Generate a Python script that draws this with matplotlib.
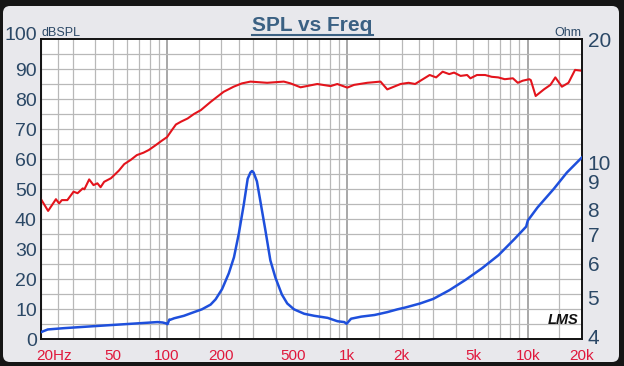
import matplotlib
matplotlib.use("Agg")
import matplotlib.pyplot as plt
from matplotlib.patches import FancyBboxPatch
from matplotlib.lines import Line2D
from matplotlib import transforms
from matplotlib import font_manager as fm
import numpy as np

# ---- data ----
spl_freq = [20, 21.9, 24.2, 25.2, 26.1, 28.0, 30.3, 31.9, 34.1, 34.8, 37.0, 39.1, 41.1,
            42.8, 44.8, 48.9, 54.0, 57.9, 62.9, 68.0, 74.0, 79.2, 86, 93, 100, 106, 112,
            120, 130, 141, 154, 175, 206, 234, 260, 290, 359, 444, 484, 550, 681, 807,
            879, 999, 1088, 1289, 1526, 1664, 1972, 2185, 2375, 2860, 3106, 3375, 3670,
            3904, 4244, 4614, 4810, 5228, 5805, 6311, 6861, 7459, 8276, 8811, 9380,
            10200, 10400, 11070, 12300, 13360, 14230, 15470, 16830, 18300, 20000]
spl_db = [46.6, 42.7, 46.6, 45.2, 46.3, 46.3, 49.1, 48.6, 50.2, 49.9, 53.2, 51.3, 51.9,
          50.6, 52.4, 53.6, 56.1, 58.3, 59.7, 61.3, 62.1, 63.0, 64.5, 66.0, 67.3, 69.5, 71.5,
          72.5, 73.5, 75.0, 76.3, 79.1, 82.4, 84.1, 85.2, 85.8, 85.4, 85.8, 85.2, 83.9, 85.0, 84.3,
          85.0, 83.8, 84.7, 85.4, 85.8, 83.2, 85.0, 85.4, 85.0, 88.0, 87.2, 89.1, 88.3,
          88.8, 87.7, 88.0, 86.9, 88.0, 88.0, 87.4, 87.2, 86.6, 86.9, 85.4, 86.1,
          86.6, 86.3, 81.0, 83.2, 84.7, 87.2, 84.1, 85.4, 89.7, 89.4]

imp_freq = [20, 21.8, 26.9, 41, 63, 88.5, 94.6, 98.6, 100.6, 103, 105, 109.4, 119, 124,
            141, 156, 174.3, 186, 202, 220, 235, 250, 266.5, 280, 290, 296, 302, 315, 329,
            351, 374, 399, 433, 464, 506, 576, 655, 777, 881, 961, 990, 1048, 1194, 1415,
            1664, 1895, 2111, 2532, 2994, 3686, 4540, 5590, 6884, 8477, 9805, 10010,
            11330, 13950, 16490, 20000]
imp_ohm = [4.15, 4.21, 4.24, 4.29, 4.34, 4.38, 4.37, 4.35, 4.33, 4.44, 4.44, 4.47, 4.51, 4.53,
           4.62, 4.69, 4.81, 4.95, 5.23, 5.69, 6.20, 7.04, 8.24, 9.45, 9.77, 9.85, 9.77, 9.32, 8.39,
           7.17, 6.10, 5.56, 5.08, 4.84, 4.69, 4.58, 4.53, 4.48, 4.40, 4.38, 4.34, 4.46, 4.51, 4.55,
           4.62, 4.69, 4.74, 4.84, 4.96, 5.20, 5.50, 5.85, 6.27, 6.85, 7.31, 7.55,
           8.10, 8.95, 9.77, 10.6]

x_ticks = [20, 50, 100, 200, 500, 1000, 2000, 5000, 10000, 20000]
x_labels = ["20Hz", "50", "100", "200", "500", "1k", "2k", "5k", "10k", "20k"]
spl_ticks = [0, 10, 20, 30, 40, 50, 60, 70, 80, 90, 100]
ohm_ticks = [4, 5, 6, 7, 8, 9, 10, 20]
ohm_labels = ["4", "5", "6", "7", "8", "9", "10", "20"]
grid_mult = [1, 1.5, 2, 2.5, 3, 4, 5, 6, 7, 8, 9]

# ---- style ----
names = {f.name for f in fm.fontManager.ttflist}
base_font = "Liberation Sans" if "Liberation Sans" in names else "DejaVu Sans"
plt.rcParams['font.family'] = [base_font, 'DejaVu Sans']

label_col = '#2b4866'
red_lab = '#e0183c'

fig = plt.figure(figsize=(6.24, 3.66), dpi=100)
fig.patch.set_facecolor('#151515')
panel = FancyBboxPatch((0.03, 0.04), 6.16, 3.56,
                       boxstyle="round,pad=0,rounding_size=0.07",
                       transform=fig.dpi_scale_trans, facecolor='#e8e8ec',
                       edgecolor='none', zorder=-10)
fig.patches.append(panel)

ax = fig.add_axes([41/624, 27/366, 541/624, 300/366])
ax.set_facecolor('white')
ax.set_xscale('log')
ax.set_xlim(20, 20000)
ax.set_ylim(0, 100)

# grid
grid_pos = []
for dec in [10, 100, 1000, 10000]:
    for m in grid_mult:
        v = dec * m
        if 20 <= v <= 20000:
            grid_pos.append(v)
for v in grid_pos:
    is_dec = abs(np.log10(v) - round(np.log10(v))) < 1e-9
    ax.axvline(v, color='#a8a8a8' if is_dec else '#b8b8b8',
               lw=1.4 if is_dec else 0.9, zorder=1)
for v in np.arange(5, 100, 5):
    ax.axhline(v, color='#b8b8b8', lw=0.9, zorder=1)

ax.plot(spl_freq, spl_db, color='#e3141c', lw=1.5, zorder=3)

ax.set_xticks(x_ticks)
ax.set_xticklabels(x_labels)
ax.xaxis.set_minor_locator(matplotlib.ticker.NullLocator())
ax.set_yticks(spl_ticks)
ax.set_yticklabels([str(t) for t in spl_ticks])
ax.tick_params(axis='x', length=0, pad=7.5, labelsize=11, labelcolor=red_lab)
ax.tick_params(axis='y', length=0, pad=3, labelsize=14, labelcolor=label_col)
for sp in ax.spines.values():
    sp.set_color('#111111')
    sp.set_linewidth(1.2)

# shift first x label / top y label
lab0 = ax.get_xticklabels()[0]
lab0.set_horizontalalignment('left')
lab0.set_transform(lab0.get_transform() + transforms.ScaledTranslation(-5/100, 0, fig.dpi_scale_trans))
ylabs = ax.get_yticklabels()
ylabs[-1].set_transform(ylabs[-1].get_transform() + transforms.ScaledTranslation(0, 6/100, fig.dpi_scale_trans))

ax2 = ax.twinx()
ax2.set_yscale('log')
ax2.set_ylim(4, 20)
ax2.plot(imp_freq, imp_ohm, color='#1e4fdc', lw=1.8, zorder=3)
ax2.set_yticks(ohm_ticks)
ax2.set_yticklabels(ohm_labels)
ax2.yaxis.set_minor_locator(matplotlib.ticker.NullLocator())
ax2.tick_params(axis='y', length=0, pad=4, labelsize=15, labelcolor=label_col)
for sp in ax2.spines.values():
    sp.set_color('#111111')
    sp.set_linewidth(1.2)
rlabs = ax2.get_yticklabels()
for i in (5, 6):
    rlabs[i].set_transform(rlabs[i].get_transform() + transforms.ScaledTranslation(0, 6/100, fig.dpi_scale_trans))
rlabs[0].set_transform(rlabs[0].get_transform() + transforms.ScaledTranslation(0, 2/100, fig.dpi_scale_trans))

# texts
fig.text(312/624, 1 - 31/366, 'SPL vs Freq', ha='center', va='baseline',
         fontsize=15, fontweight='bold', color='#3b6183')
fig.add_artist(Line2D([252/624, 373/624], [1 - 35/366, 1 - 35/366],
                      color='#3b6183', lw=1.5))
fig.text(41/624, 1 - 36/366, 'dBSPL', ha='left', va='baseline', fontsize=9, color=label_col)
fig.text(581/624, 1 - 36/366, 'Ohm', ha='right', va='baseline', fontsize=9, color=label_col)
ax.text(0.993, 0.04, 'LMS', transform=ax.transAxes, ha='right', va='bottom',
        fontsize=10.5, fontstyle='italic', fontweight='bold', color='#111111', zorder=5)

fig.savefig('out.png', dpi=100, facecolor=fig.get_facecolor())
